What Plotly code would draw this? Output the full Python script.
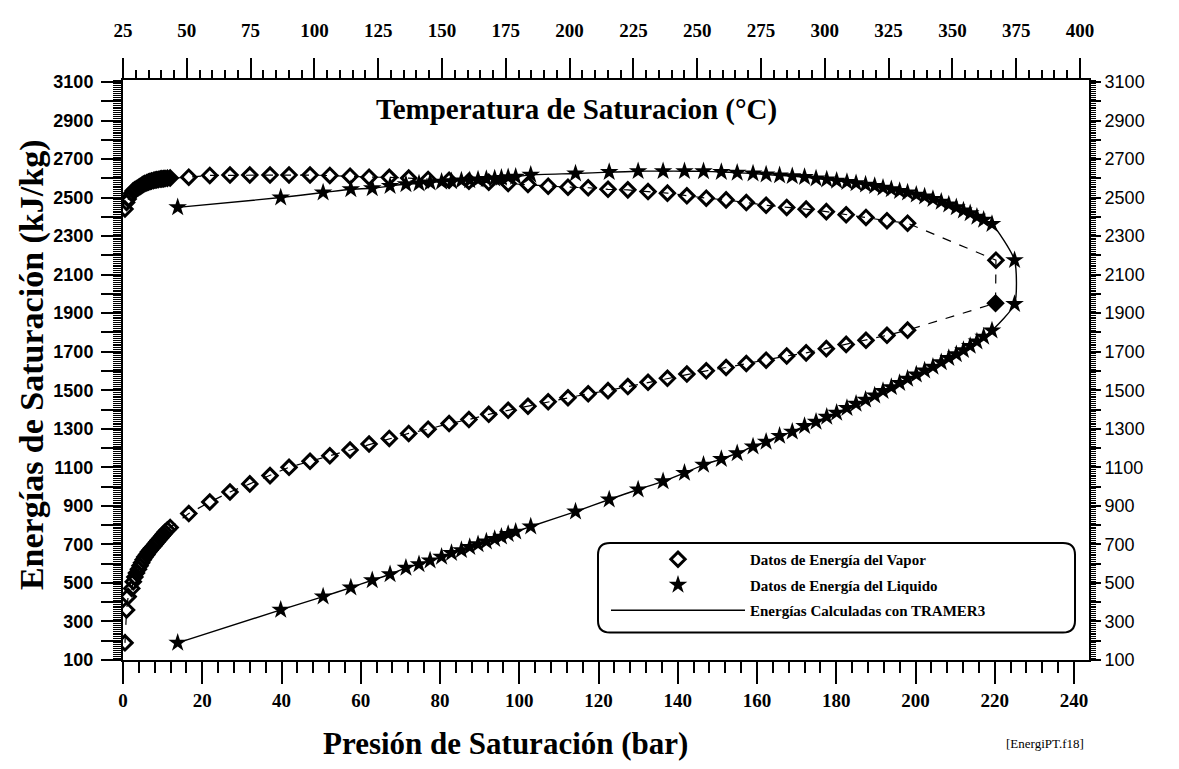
import plotly.graph_objects as go

# ---------------- data ----------------
# vapour-energy data (diamonds): pressure (bar) and energies (kJ/kg)
p_vap = [0.5, 0.9, 1.3, 2.2, 2.6, 3.0, 3.4, 3.9, 4.3, 4.7, 5.1, 5.5, 6.0, 6.4, 6.8, 7.2,
         7.7, 8.1, 8.5, 8.9, 9.4, 9.8, 10.2, 10.6, 11.2, 11.9,
         16.6, 21.9, 27.0, 32.0, 37.1, 41.9, 47.2, 52.2, 57.3, 62.1, 67.2, 72.1, 77.0,
         82.3, 87.3, 92.3, 97.2, 102.2, 107.3, 112.3, 117.4, 122.4, 127.4, 132.5, 137.4,
         142.3, 147.2, 152.2, 157.3, 162.3, 167.5, 172.4, 177.5, 182.5, 187.5, 192.8, 198.0]
u_vap_low = [189, 360, 429, 471, 506, 531, 552, 571, 589, 605, 620, 634, 647, 660, 670, 680,
             691, 701, 711, 721, 732, 742, 752, 763, 775, 788,
             860, 920, 972, 1014, 1057, 1100, 1131, 1160, 1190, 1221, 1250, 1276, 1298,
             1327, 1348, 1375, 1396, 1417, 1440, 1461, 1482, 1498, 1519, 1541, 1562,
             1584, 1601, 1618, 1639, 1656, 1678, 1694, 1716, 1738, 1759, 1785, 1812]
u_vap_up = [2441, 2475, 2493, 2522, 2535, 2541, 2546, 2552, 2558, 2563, 2569, 2573, 2577, 2581, 2583, 2586,
            2589, 2591, 2593, 2594, 2596, 2597, 2598, 2599, 2600, 2602,
            2606, 2615, 2617, 2617, 2617, 2617, 2617, 2615, 2611, 2606, 2605, 2601, 2594,
            2590, 2585, 2579, 2573, 2568, 2559, 2554, 2551, 2543, 2540, 2531, 2523,
            2509, 2497, 2488, 2474, 2460, 2449, 2440, 2427, 2411, 2397, 2380, 2367]
p_vap_crit = [220.2, 220.3]
u_vap_crit = [1952, 2175]

# liquid-energy data (stars)
p_liq = [13.8, 39.8, 50.5, 57.5, 62.9, 67.4, 71.4, 74.7, 77.5, 80.4, 82.9, 85.4, 87.5, 89.6,
         91.7, 93.8, 95.5, 97.2, 99.1, 102.9, 114.2, 122.7, 130.0, 136.3, 141.7, 146.5,
         151.0, 155.0, 159.0, 162.3, 165.7, 168.9, 172.0, 174.9, 177.6, 180.1, 182.7, 185.0,
         187.4, 189.7, 191.8, 193.9, 196.0, 198.0, 200.2, 202.3, 204.4, 206.5, 208.4, 210.3,
         212.1, 213.8, 215.5, 217.2, 219.3]
u_liq_low = [189, 360, 429, 476, 514, 545, 578, 597, 616, 636, 655, 670, 686, 701,
             715, 728, 740, 754, 766, 793, 870, 933, 985, 1027, 1071, 1113,
             1143, 1173, 1208, 1233, 1263, 1285, 1314, 1336, 1362, 1383, 1408, 1430,
             1451, 1473, 1496, 1516, 1537, 1559, 1581, 1602, 1622, 1645, 1667, 1687,
             1708, 1730, 1753, 1777, 1810]
u_liq_up = [2449, 2500, 2526, 2543, 2548, 2560, 2569, 2573, 2578, 2582, 2585, 2588, 2590, 2593,
            2596, 2599, 2602, 2605, 2608, 2618, 2625, 2632, 2637, 2637, 2637, 2636,
            2633, 2629, 2625, 2620, 2615, 2611, 2606, 2599, 2594, 2587, 2581, 2574,
            2567, 2560, 2551, 2543, 2534, 2526, 2515, 2505, 2492, 2478, 2464, 2449,
            2433, 2418, 2400, 2385, 2363]
p_liq_crit = [225.0, 225.0]
u_liq_crit = [1947, 2175]

# axis ticks
p_ticks = list(range(0, 241, 20))
t_ticks = list(range(25, 401, 25))
u_ticks = list(range(100, 3101, 100))
u_labels = [str(v) if (v - 100) % 200 == 0 else "" for v in u_ticks]

legend_names = ["Datos de Energía del Vapor", "Datos de Energía del Liquido",
                "Energías Calculadas con TRAMER3"]

# ---------------- geometry helpers ----------------
# page body has an 8px margin, so the figure is drawn offset by 8px
OFF = 8
W, H = 1179, 769
PW, PH = 966, 590
L, T = 123 - OFF, 70 - OFF
R, B = W - L - PW, H - T - PH


def px(xp):
    # reference-picture x pixel -> paper coordinate
    return (xp - OFF - L) / PW


def py(yp):
    # reference-picture y pixel -> paper coordinate
    return (T + PH - (yp - OFF)) / PH


SERIF = "Liberation Serif"
SANS = "Liberation Sans"

# loops built from the data
vx_loop = p_vap + p_vap_crit + p_vap[::-1]
vy_loop = u_vap_low + u_vap_crit + u_vap_up[::-1]
lx_loop = p_liq + p_liq_crit + p_liq[::-1]
ly_loop = u_liq_low + u_liq_crit + u_liq_up[::-1]

vx_pts = p_vap + p_vap + p_vap_crit
vy_pts = u_vap_low + u_vap_up + u_vap_crit
v_sym = ["diamond-open"] * (2 * len(p_vap)) + ["diamond", "diamond-open"]

lx_pts = p_liq + p_liq + p_liq_crit
ly_pts = u_liq_low + u_liq_up + u_liq_crit

fig = go.Figure()

fig.add_trace(go.Scatter(x=vx_loop, y=vy_loop, mode="lines",
                         line=dict(color="black", width=1.2, dash="dash"),
                         showlegend=False, hoverinfo="skip"))
fig.add_trace(go.Scatter(x=lx_loop, y=ly_loop, mode="lines", name=legend_names[2],
                         line=dict(color="black", width=1.4, shape="spline", smoothing=0.6),
                         legendgroup="c", legendrank=3))
fig.add_trace(go.Scatter(x=vx_pts, y=vy_pts, mode="markers", name=legend_names[0],
                         marker=dict(symbol=v_sym, size=11, color="black",
                                     line=dict(width=3, color="black")),
                         legendgroup="a", legendrank=1))
fig.add_trace(go.Scatter(x=lx_pts, y=ly_pts, mode="markers", name=legend_names[1],
                         marker=dict(symbol="star", size=14, color="black",
                                     line=dict(width=0)),
                         legendgroup="b", legendrank=2))
# helper traces so the secondary axes are drawn
fig.add_trace(go.Scatter(x=[t_ticks[0], t_ticks[-1]], y=[None, None], xaxis="x2", yaxis="y",
                         showlegend=False, hoverinfo="skip", mode="markers"))
fig.add_trace(go.Scatter(x=[None, None], y=[u_ticks[0], u_ticks[-1]], xaxis="x", yaxis="y2",
                         showlegend=False, hoverinfo="skip", mode="markers"))

x_max = 240 * PW / (1074 - 123)
t_max = 25 + PW / ((1080 - 123) / 375)
y_max = 100 + PH / (588 / 3000)

fig.update_layout(
    width=W, height=H,
    margin=dict(l=L, r=R, t=T, b=B),
    paper_bgcolor="white", plot_bgcolor="white",
    showlegend=True,
    xaxis=dict(range=[0, x_max], domain=[0, 1], tickvals=p_ticks,
               showgrid=False, zeroline=False, showline=True, linecolor="black", linewidth=2,
               ticks="outside", ticklen=22, tickwidth=2, tickcolor="black",
               minor=dict(dtick=4, ticks="outside", ticklen=11, tickwidth=2, tickcolor="black",
                          showgrid=False),
               tickfont=dict(family=SERIF, size=19, color="black", weight="bold")),
    xaxis2=dict(range=[25, t_max], overlaying="x", side="top", anchor="y", tickvals=t_ticks,
                showgrid=False, zeroline=False, showline=True, linecolor="black", linewidth=2,
                ticks="outside", ticklen=20, tickwidth=2, tickcolor="black",
                ticklabelstandoff=13,
                minor=dict(dtick=5, tick0=25, ticks="outside", ticklen=8, tickwidth=1.5,
                           tickcolor="black", showgrid=False),
                tickfont=dict(family=SERIF, size=19, color="black", weight="bold")),
    yaxis=dict(range=[100, y_max], tickvals=u_ticks, ticktext=u_labels,
               showgrid=False, zeroline=False, showline=True, linecolor="black", linewidth=2,
               ticks="outside", ticklen=20, tickwidth=1.5, tickcolor="black",
               ticklabelstandoff=4,
               minor=dict(dtick=10, tick0=100, ticks="outside", ticklen=8, tickwidth=1,
                          tickcolor="black", showgrid=False),
               tickfont=dict(family=SANS, size=18, color="black", weight="bold")),
    yaxis2=dict(range=[100, y_max], overlaying="y", side="right", anchor="x",
                tickvals=u_ticks, ticktext=u_labels,
                showgrid=False, zeroline=False, showline=True, linecolor="black", linewidth=2,
                ticks="outside", ticklen=10, tickwidth=1.5, tickcolor="black",
                minor=dict(dtick=10, tick0=100, ticks="outside", ticklen=5, tickwidth=1,
                           tickcolor="black", showgrid=False),
                tickfont=dict(family=SANS, size=18, color="black")),
    legend=dict(x=px(606), y=py(541), xanchor="left", yanchor="top",
                bgcolor="rgba(0,0,0,0)", borderwidth=0, traceorder="grouped",
                tracegroupgap=3, itemwidth=134,
                font=dict(family=SERIF, size=15, color="black", weight="bold")),
)

# rounded legend frame
x0, x1, y0, y1 = 598, 1075, 541, 632
r = 12
path = (f"M {px(x0 + r)},{py(y0)} L {px(x1 - r)},{py(y0)} Q {px(x1)},{py(y0)} {px(x1)},{py(y0 + r)} "
        f"L {px(x1)},{py(y1 - r)} Q {px(x1)},{py(y1)} {px(x1 - r)},{py(y1)} "
        f"L {px(x0 + r)},{py(y1)} Q {px(x0)},{py(y1)} {px(x0)},{py(y1 - r)} "
        f"L {px(x0)},{py(y0 + r)} Q {px(x0)},{py(y0)} {px(x0 + r)},{py(y0)} Z")
fig.add_shape(type="path", path=path, xref="paper", yref="paper",
              line=dict(color="black", width=2), fillcolor="white", layer="below")

fig.add_annotation(text="Temperatura de Saturacion (°C)", xref="paper", yref="paper",
                   x=px(576), y=py(100), showarrow=False, xanchor="center", yanchor="middle",
                   font=dict(family=SERIF, size=29, color="black", weight="bold"))
fig.add_annotation(text="Presión de Saturación (bar)", xref="paper", yref="paper",
                   x=px(505), y=py(745), showarrow=False, xanchor="center", yanchor="middle",
                   font=dict(family=SERIF, size=31, color="black", weight="bold"))
fig.add_annotation(text="Energías de Saturación (kJ/kg)", xref="paper", yref="paper",
                   x=px(32), y=py(360), showarrow=False, xanchor="center", yanchor="middle",
                   textangle=-90,
                   font=dict(family=SERIF, size=34, color="black", weight="bold"))
fig.add_annotation(text="[EnergiPT.f18]", xref="paper", yref="paper",
                   x=px(1045), y=py(745), showarrow=False, xanchor="center", yanchor="middle",
                   font=dict(family=SERIF, size=13, color="black"))

fig.write_html("out.html")
